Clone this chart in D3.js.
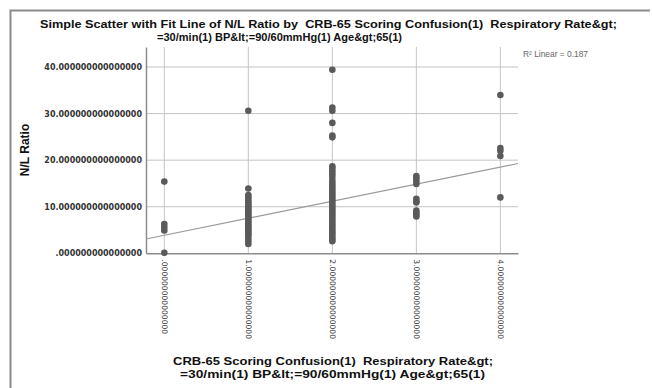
<!DOCTYPE html>
<html><head><meta charset="utf-8">
<script src="https://cdn.jsdelivr.net/npm/d3@7/dist/d3.min.js"></script>
<style>body{margin:0;background:#fff;}svg{display:block;} text{white-space:pre;}</style>
</head><body>
<svg id="c" width="652" height="388"></svg>
<script>
const titleLines = ["Simple Scatter with Fit Line of N/L Ratio by  CRB-65 Scoring Confusion(1)  Respiratory Rate&gt;", "=30/min(1) BP&lt;=90/60mmHg(1) Age&gt;65(1)"];
const xTitleLines = ["CRB-65 Scoring Confusion(1)  Respiratory Rate&gt;", "=30/min(1) BP&lt;=90/60mmHg(1) Age&gt;65(1)"];
const yTitle = "N/L Ratio";
const xTicks = [0, 1, 2, 3, 4];
const xTickLabels = [".000000000000000", "1.000000000000000", "2.000000000000000", "3.000000000000000", "4.000000000000000"];
const yTicks = [0, 10, 20, 30, 40];
const yTickLabels = [".000000000000000", "10.000000000000000", "20.000000000000000", "30.000000000000000", "40.000000000000000"];
const score0 = [15.4, 6.3, 5.6, 4.9, 0.1];
const score1 = [30.6, 13.9, 12.5, 12.0, 11.5, 11.0, 10.6, 10.2, 9.8, 9.4, 9.0, 8.6, 8.2, 7.8, 7.4, 7.0, 6.6, 6.2, 5.8, 5.4, 5.0, 4.6, 4.2, 3.8, 3.2, 2.6, 2.0];
const score2 = [39.4, 31.3, 30.6, 28.0, 25.3, 24.9, 18.7, 18.2, 17.6, 17.0, 16.4, 15.6, 15.0, 14.5, 14.0, 13.5, 13.0, 12.5, 12.0, 11.5, 11.0, 10.5, 10.0, 9.5, 9.0, 8.5, 8.0, 7.5, 7.0, 6.5, 6.0, 5.5, 5.0, 4.5, 4.0, 3.5, 3.0, 2.6];
const score3 = [16.6, 16.1, 15.5, 14.9, 11.7, 11.2, 10.9, 9.2, 8.7, 8.3, 7.9];
const score4 = [34.0, 22.6, 22.0, 20.9, 12.0];
const fitIntercept = 3.87;
const fitSlope = 3.66;
const rSquaredLabel = "R\u00b2 Linear = 0.187";

const groups = [score0, score1, score2, score3, score4];
const points = [];
groups.forEach((arr, i) => arr.forEach(v => points.push({x: xTicks[i], y: v})));

const svg = d3.select("#c");
// frame
svg.append("path").attr("d", "M10.5,388 L10.5,10.5 L650,10.5")
  .attr("fill", "none").attr("stroke", "#8c8c8c").attr("stroke-width", 2);

const x = d3.scaleLinear().domain([-0.218, 4.21]).range([146, 518]);
const y = d3.scaleLinear().domain([0, 44.3]).range([253.3, 47]);

// gridlines
svg.append("g").selectAll("line").data(yTicks.slice(1)).join("line")
  .attr("x1", 146).attr("x2", 518).attr("y1", d => y(d)).attr("y2", d => y(d))
  .attr("stroke", "#c4c4c4").attr("stroke-width", 1);
svg.append("g").selectAll("line").data(xTicks).join("line")
  .attr("y1", 47).attr("y2", 253.3).attr("x1", d => x(d)).attr("x2", d => x(d))
  .attr("stroke", "#c4c4c4").attr("stroke-width", 1);

// axes
const yAxis = d3.axisLeft(y).tickValues(yTicks).tickSize(0).tickPadding(4)
  .tickFormat((d, i) => yTickLabels[i]);
const gy = svg.append("g").attr("transform", "translate(146,0)").call(yAxis);
gy.select(".domain").attr("stroke", "#8c8c8c").attr("stroke-width", 1.5);
gy.selectAll("text").attr("font-family", "'DejaVu Sans', sans-serif").attr("font-size", 8.0)
  .attr("font-weight", "bold").attr("fill", "#333");

const xAxis = d3.axisBottom(x).tickValues(xTicks).tickSize(0).tickPadding(0)
  .tickFormat((d, i) => xTickLabels[i]);
const gx = svg.append("g").attr("transform", "translate(0,253.3)").call(xAxis);
gx.select(".domain").attr("stroke", "#8c8c8c").attr("stroke-width", 1.5);
gx.selectAll("text").attr("font-family", "'DejaVu Sans', sans-serif").attr("font-size", 7.6)
  .attr("fill", "#333").attr("text-anchor", "start").attr("dy", "0.32em").attr("y", 0)
  .attr("transform", "translate(0,6) rotate(90)");

// fit line
const xd = x.domain();
svg.append("line")
  .attr("x1", x(xd[0])).attr("y1", y(fitIntercept + fitSlope * xd[0]))
  .attr("x2", x(xd[1])).attr("y2", y(fitIntercept + fitSlope * xd[1]))
  .attr("stroke", "#9a9a9a").attr("stroke-width", 1.2);

// points
svg.append("g").selectAll("circle").data(points).join("circle")
  .attr("cx", d => x(d.x)).attr("cy", d => y(d.y)).attr("r", 3.3)
  .attr("fill", "#5a5a5a");

// R2
svg.append("text").attr("x", 523).attr("y", 57).text(rSquaredLabel)
  .attr("font-family", "'Liberation Sans', Arial, sans-serif").attr("font-size", 8.4).attr("fill", "#666");

// titles
const tfont = "'Liberation Sans', Arial, sans-serif";
[[titleLines[0], 40, 617, 28.3], [titleLines[1], 157, 402, 41.3]].forEach(([t, x0, x1, yy]) => {
  svg.append("text").attr("x", x0).attr("y", yy).text(t)
    .attr("font-family", tfont).attr("font-weight", "bold").attr("font-size", 11.5)
    .attr("fill", "#111").attr("textLength", x1 - x0).attr("lengthAdjust", "spacingAndGlyphs");
});
[[xTitleLines[0], 173, 493, 364.8], [xTitleLines[1], 180, 485, 378]].forEach(([t, x0, x1, yy]) => {
  svg.append("text").attr("x", x0).attr("y", yy).text(t)
    .attr("font-family", tfont).attr("font-weight", "bold").attr("font-size", 11.8)
    .attr("fill", "#111").attr("textLength", x1 - x0).attr("lengthAdjust", "spacingAndGlyphs");
});
svg.append("text").attr("transform", "translate(29,150) rotate(-90)").attr("text-anchor", "middle")
  .text(yTitle).attr("font-family", tfont).attr("font-weight", "bold").attr("font-size", 12).attr("fill", "#111");
</script>
</body></html>
